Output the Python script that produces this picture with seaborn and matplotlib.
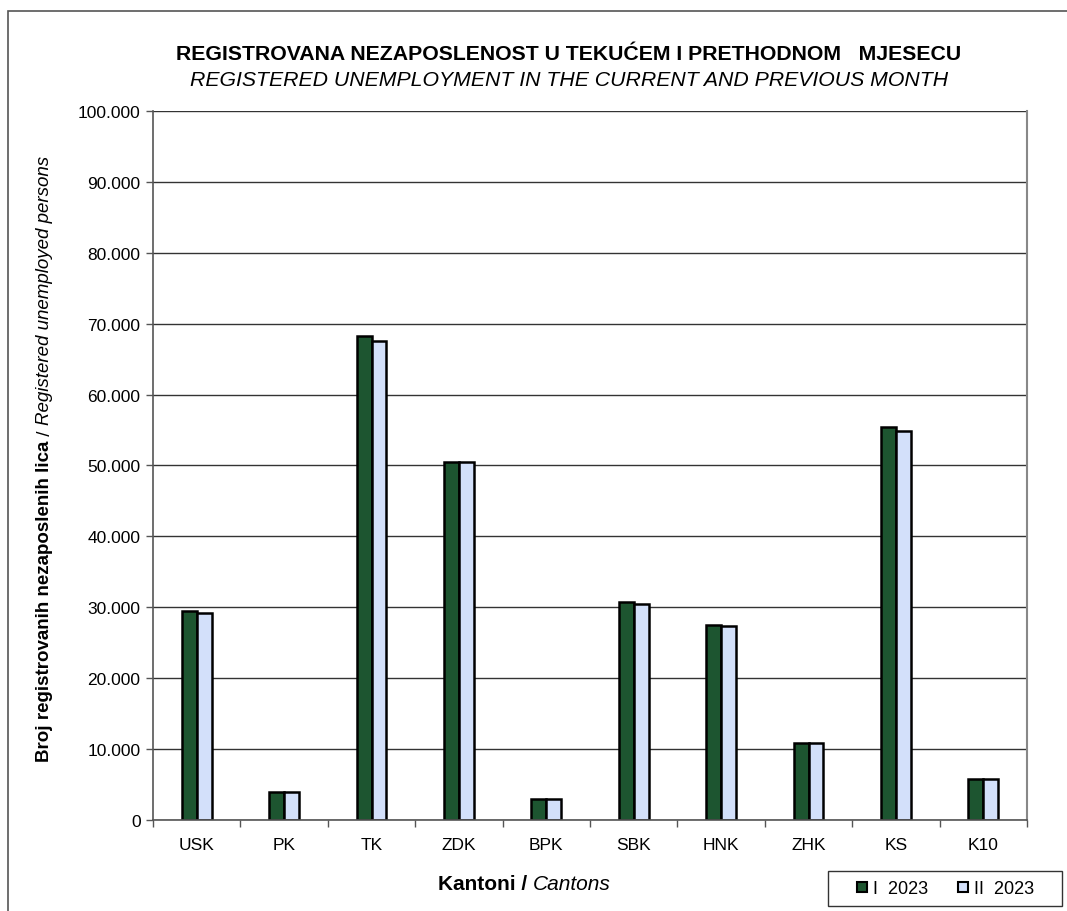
import matplotlib
matplotlib.use("Agg")
import matplotlib.pyplot as plt
import seaborn as sns
import pandas as pd
from matplotlib.lines import Line2D
from matplotlib.patches import Rectangle
from matplotlib.ticker import FuncFormatter, MultipleLocator

cantons = ["USK", "PK", "TK", "ZDK", "BPK", "SBK", "HNK", "ZHK", "KS", "K10"]
jan_2023 = [29500, 3900, 68300, 50500, 2900, 30700, 27500, 10900, 55400, 5800]
feb_2023 = [29200, 3900, 67600, 50500, 2900, 30400, 27400, 10900, 54800, 5800]
series_names = ["I  2023", "II  2023"]
colors = ["#1d5530", "#d3e0fa"]

df = pd.DataFrame({
    "canton": cantons * 2,
    "value": jan_2023 + feb_2023,
    "month": [series_names[0]] * len(cantons) + [series_names[1]] * len(cantons),
})

sns.set_theme(style="white")
plt.rcParams["font.family"] = ["Liberation Sans", "DejaVu Sans"]
plt.rcParams["text.color"] = "black"
plt.rcParams["axes.labelcolor"] = "black"
plt.rcParams["xtick.color"] = "black"
plt.rcParams["ytick.color"] = "black"

fig = plt.figure(figsize=(10.67, 9.12), dpi=100)
ax = fig.add_axes([153 / 1067, 1 - 821 / 912, (1027 - 153) / 1067, (821 - 112) / 912])

sns.barplot(data=df, x="canton", y="value", hue="month", palette=colors,
            width=0.34, edgecolor="black", linewidth=1.8, ax=ax, legend=False,
            saturation=1)

ax.set_ylim(0, 100000)
ax.set_xlim(-0.5, len(cantons) - 0.5)
ax.yaxis.set_major_locator(MultipleLocator(10000))
ax.yaxis.set_major_formatter(FuncFormatter(lambda v, p: f"{int(v):,}".replace(",", ".")))
ax.set_axisbelow(True)
ax.grid(axis="y", color="#333333", linewidth=1.0)
ax.grid(axis="x", visible=False)
ax.set_xlabel("")
ax.set_ylabel("")

for s in ["left", "bottom"]:
    ax.spines[s].set_color("#555555")
    ax.spines[s].set_linewidth(1.2)
ax.spines["right"].set_color("#888888")
ax.spines["right"].set_linewidth(1.5)
ax.spines["top"].set_visible(False)

ax.tick_params(axis="y", which="major", length=5, width=1, color="#555555",
               direction="out", left=True, labelsize=12.5, pad=4, labelcolor="black")
ax.tick_params(axis="x", which="major", length=0, labelsize=12.5, pad=12, labelcolor="black")
ax.set_xticks(range(len(cantons)))
ax.set_xticks([i + 0.5 for i in range(-1, len(cantons))], minor=True)
ax.tick_params(axis="x", which="minor", length=5, width=1, color="#555555",
               direction="out", bottom=True)

# Titles
fig.text(569 / 1067, 1 - 55 / 912,
         "REGISTROVANA NEZAPOSLENOST U TEKUĆEM I PRETHODNOM   MJESECU",
         ha="center", va="center", fontsize=15.3, fontweight="bold")
fig.text(569 / 1067, 1 - 81 / 912,
         "REGISTERED UNEMPLOYMENT IN THE CURRENT AND PREVIOUS MONTH",
         ha="center", va="center", fontsize=15.3, fontstyle="italic")

# X label (bold + italic)
t1 = fig.text(438 / 1067, 1 - 885 / 912, "Kantoni / ", ha="left", va="center",
              fontsize=15, fontweight="bold")
fig.canvas.draw()
ax.annotate("Cantons", xy=(1, 0.5), xycoords=t1, ha="left", va="center",
            fontsize=15, fontstyle="italic", annotation_clip=False)

# Y label (bold + italic)
y1 = fig.text(45 / 1067, 1 - 762 / 912, "Broj registrovanih nezaposlenih lica", rotation=90,
              ha="center", va="bottom", fontsize=13.5, fontweight="bold")
fig.canvas.draw()
y2 = ax.annotate(" / ", xy=(0.5, 1), xycoords=y1, rotation=90, ha="center", va="bottom",
                 fontsize=13.5, annotation_clip=False)
fig.canvas.draw()
ax.annotate("Registered unemployed persons", xy=(0.5, 1), xycoords=y2, rotation=90,
            ha="center", va="bottom", fontsize=13.5, fontstyle="italic", annotation_clip=False)

# Legend (frameless, with a separate box drawn around it)
box_x0, box_x1, box_y0, box_y1 = 828, 1062, 872, 907
fig.patches.append(Rectangle((box_x0 / 1067, 1 - box_y1 / 912),
                             (box_x1 - box_x0) / 1067, (box_y1 - box_y0) / 912,
                             transform=fig.transFigure, fill=True, facecolor="white",
                             edgecolor="#333333", linewidth=1.0, zorder=5))
handles = [Line2D([0], [0], marker="s", linestyle="none", markersize=7.5,
                  markerfacecolor=c, markeredgecolor="black", markeredgewidth=1.5)
           for c in colors]
leg = fig.legend(handles, series_names, loc="center",
                 bbox_to_anchor=((box_x0 + box_x1) / 2 / 1067, 1 - (box_y0 + box_y1) / 2 / 912),
                 ncol=2, fontsize=13, frameon=False,
                 handlelength=0.7, handletextpad=0.25, columnspacing=1.6, borderpad=0.0)
leg.set_zorder(6)

# Outer chart border
fig.patches.append(Rectangle((8 / 1067, -0.05), 1.1, 1 - 12 / 912 + 0.05,
                             transform=fig.transFigure, fill=False,
                             edgecolor="#555555", linewidth=1.2))

fig.savefig("out.png", dpi=100, facecolor="white")
